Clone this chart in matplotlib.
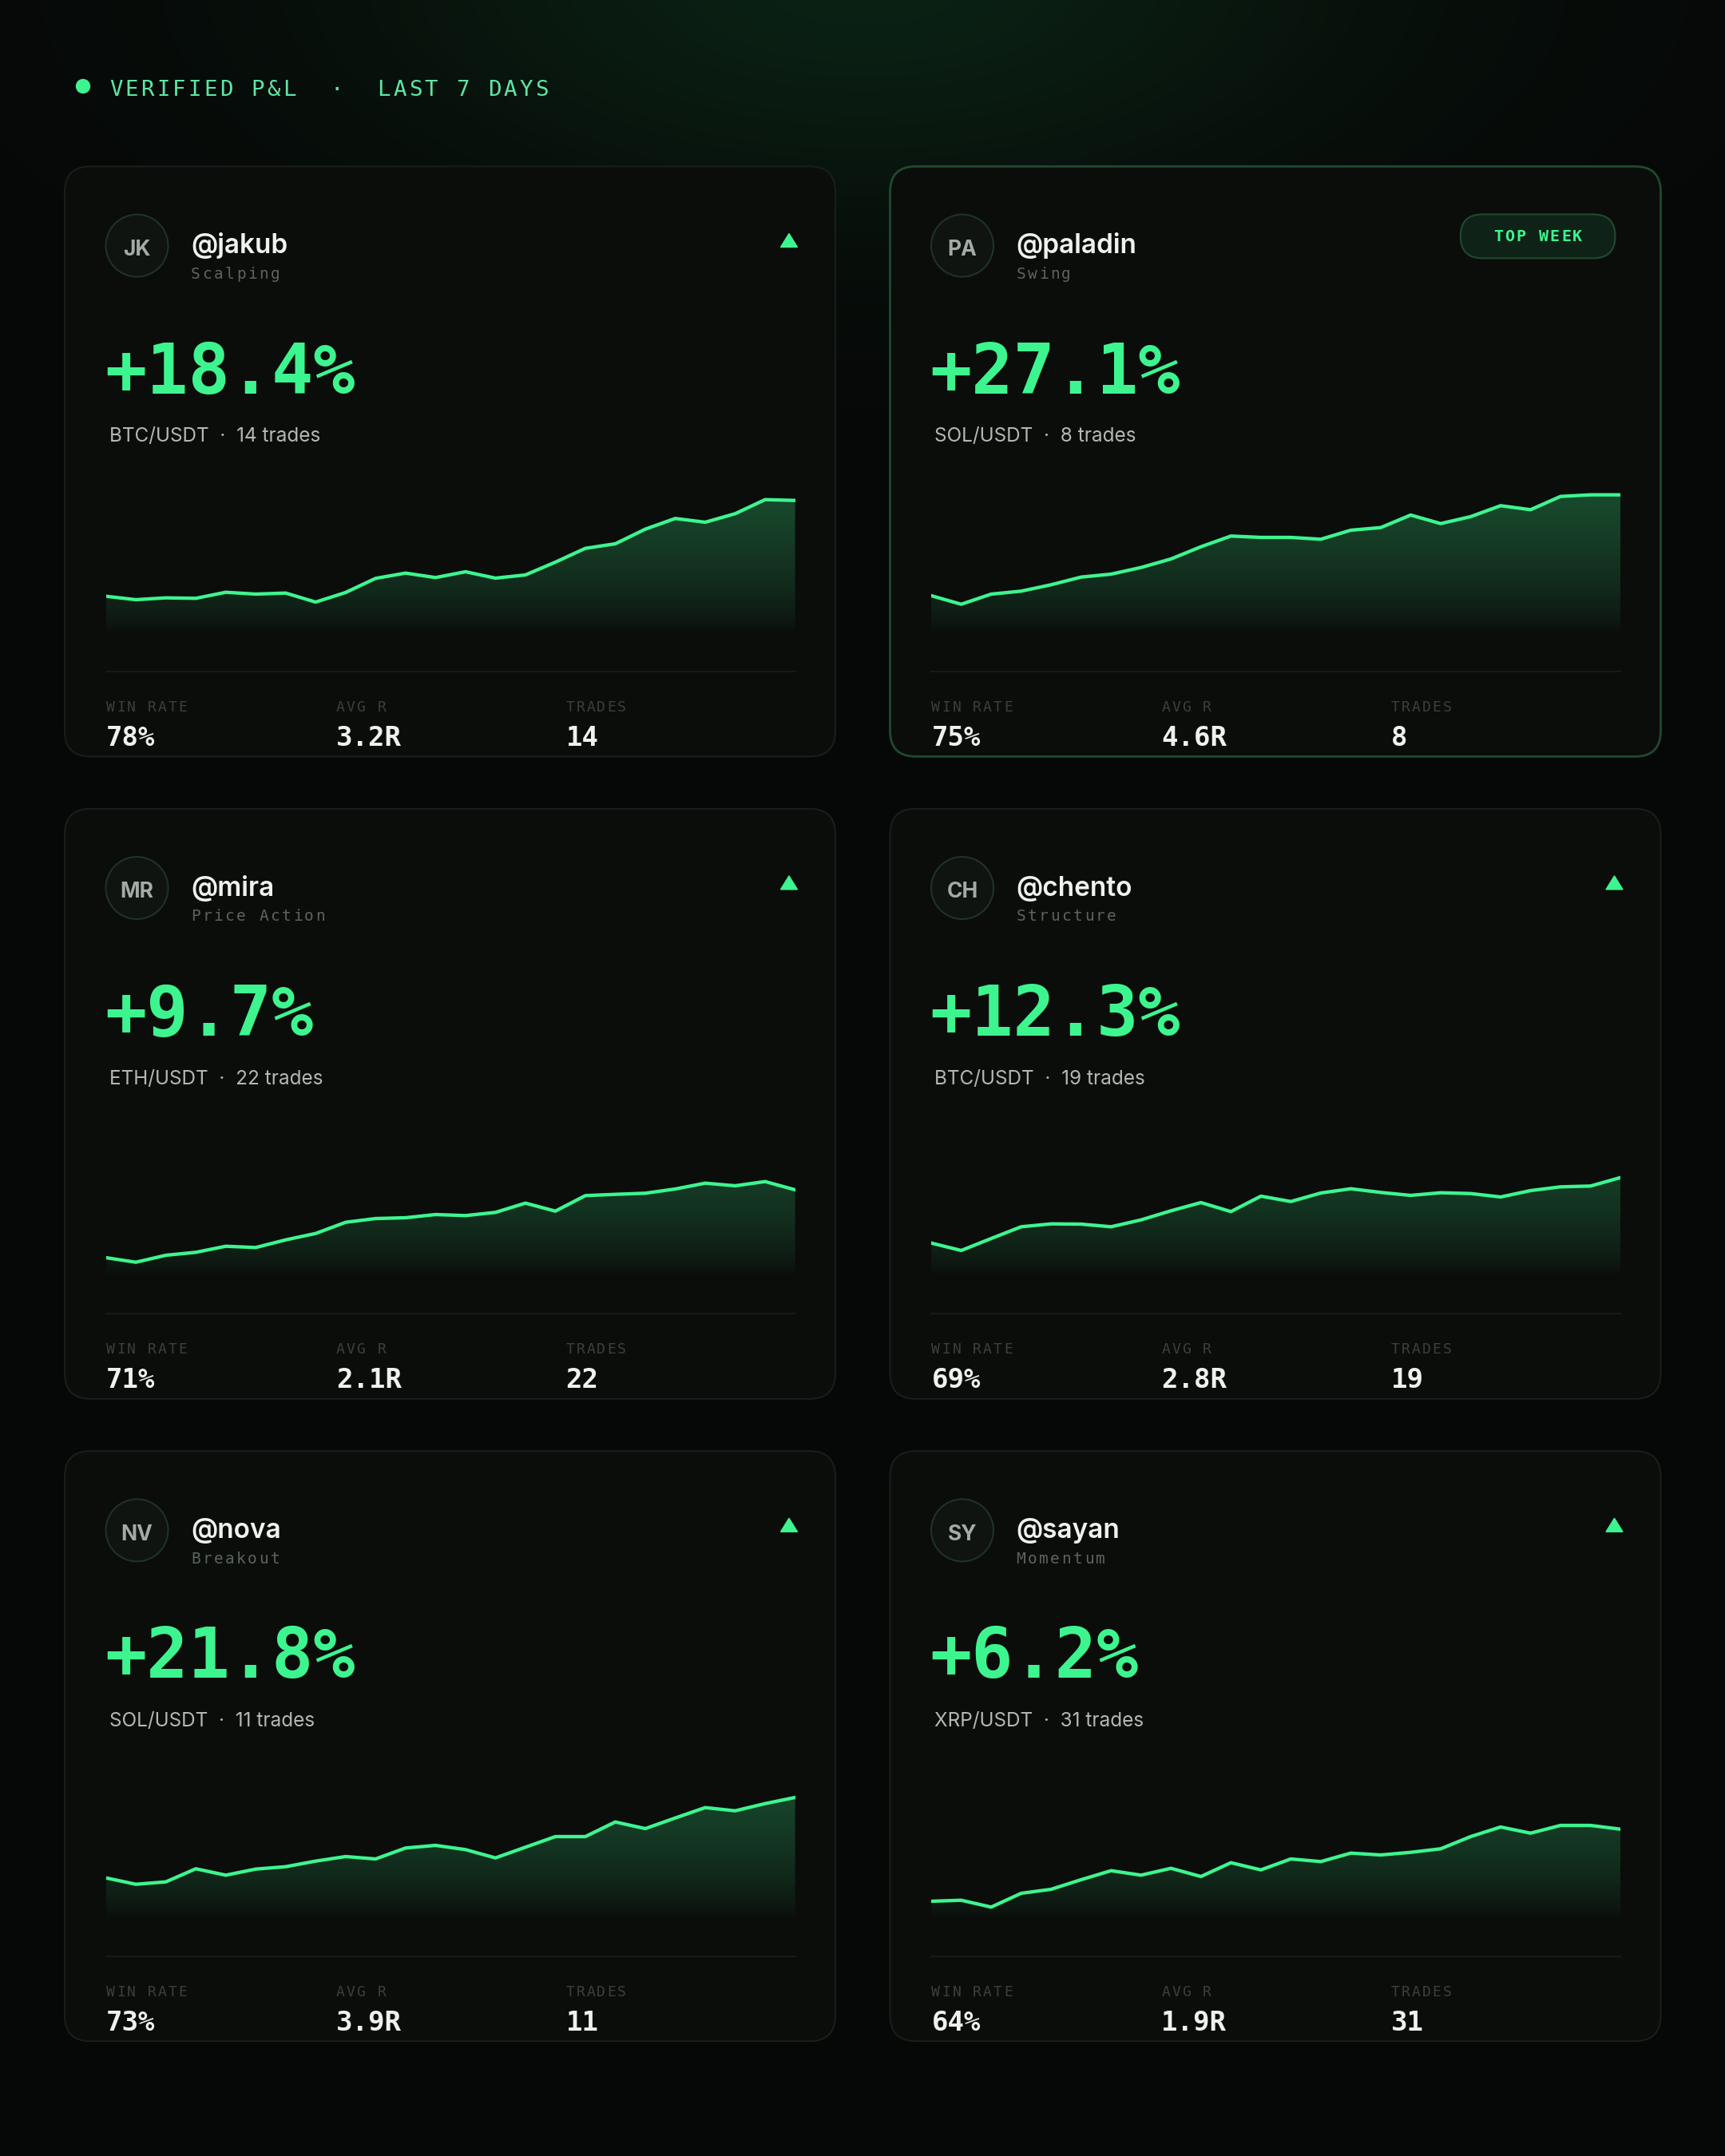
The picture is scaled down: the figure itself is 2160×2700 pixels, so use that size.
import numpy as np
import matplotlib.pyplot as plt
from matplotlib.patches import FancyBboxPatch, Circle, Polygon

# ---- data ----
handles = ['@jakub', '@paladin', '@mira', '@chento', '@nova', '@sayan']
initials = ['JK', 'PA', 'MR', 'CH', 'NV', 'SY']
styles = ['Scalping', 'Swing', 'Price Action', 'Structure', 'Breakout', 'Momentum']
returns = [18.4, 27.1, 9.7, 12.3, 21.8, 6.2]
pairs = ['BTC/USDT', 'SOL/USDT', 'ETH/USDT', 'BTC/USDT', 'SOL/USDT', 'XRP/USDT']
trades = [14, 8, 22, 19, 11, 31]
win_rates = [78, 75, 71, 69, 73, 64]
avg_r = [3.2, 4.6, 2.1, 2.8, 3.9, 1.9]
top_week = '@paladin'
stat_labels = ['WIN RATE', 'AVG R', 'TRADES']

# equity sparklines, 24 points each (chart height units)
jakub = [46.3, 42.0, 44.3, 43.7, 51.3, 49.0, 50.3, 39.0, 51.0, 68.7, 75.3, 69.7,
         77.0, 69.0, 73.0, 89.0, 106.3, 112.0, 130.3, 143.7, 139.0, 149.7, 167.3, 166.3]
paladin = [47.0, 36.3, 49.0, 52.7, 60.7, 70.3, 74.0, 82.3, 93.0, 108.3, 121.7, 120.0,
           120.0, 117.7, 129.0, 132.3, 148.0, 137.3, 146.0, 159.7, 154.7, 171.3, 173.3, 173.3]
mira = [22.4, 16.7, 25.4, 29.1, 36.7, 35.1, 44.7, 52.7, 66.7, 71.4, 72.4, 76.4,
        75.1, 79.1, 90.7, 80.7, 100.1, 101.7, 103.1, 108.4, 115.7, 112.4, 117.7, 107.4]
chento = [40.7, 31.4, 46.4, 61.1, 64.7, 64.4, 61.1, 69.7, 81.1, 91.4, 80.1, 99.4,
          92.7, 103.4, 108.7, 104.1, 100.4, 103.7, 102.7, 98.4, 106.4, 111.1, 112.1, 122.7]
nova = [50.1, 42.1, 45.1, 61.5, 53.5, 61.1, 64.1, 71.1, 76.8, 73.8, 87.5, 90.8,
        85.5, 75.1, 88.5, 101.8, 101.8, 120.1, 111.8, 125.1, 138.1, 134.1, 143.1, 150.8]
sayan = [20.8, 22.1, 13.5, 30.8, 35.8, 47.8, 59.1, 53.5, 62.1, 51.8, 69.1, 60.1,
         73.8, 70.5, 81.1, 78.8, 82.1, 86.5, 101.8, 113.8, 106.1, 115.8, 115.8, 111.1]
curves = [jakub, paladin, mira, chento, nova, sayan]

GREEN = '#3df58f'
MONO = 'DejaVu Sans Mono'
SANS = 'Inter'

W, H = 2160, 2700
fig = plt.figure(figsize=(21.6, 27), dpi=100)
fig.patch.set_facecolor('#060807')
bg = fig.add_axes([0, 0, 1, 1])
bg.axis('off')

# top glow
yy, xx = np.mgrid[0:H:4, 0:W:4]
w = np.exp(-(((xx - 1080) / 650.0) ** 2 + ((yy + 30) / 300.0) ** 2))
base = np.array([6, 8, 7]) / 255.0
glow = np.array([11, 33, 20]) / 255.0
bg.imshow(base + w[..., None] * (glow - base), extent=[0, W, H, 0],
          aspect='auto', interpolation='bilinear', zorder=0)
bg.set_xlim(0, W)
bg.set_ylim(H, 0)


def spaced(x, y, s, pitch, **kw):
    for i, ch in enumerate(s):
        if ch != ' ':
            bg.text(x + i * pitch, y, ch, ha='left', va='baseline', **kw)


# header
bg.add_patch(Circle((104, 108), 8.5, color=GREEN, zorder=3))
spaced(136.8, 120, 'VERIFIED P&L  \u00b7  LAST 7 DAYS', 19.75, fontsize=19.7,
       family=MONO, color='#5ee6a5', zorder=3)

col_x = [81, 1114.5]
row_y = [208.4, 1012.8, 1817.2]
card_w, card_h = 965, 739
chart_x0, chart_w = 51.6, 863
chart_bot, chart_top = 584.6, 400.0

for i in range(6):
    L = col_x[i % 2]
    T = row_y[i // 2]
    is_top = handles[i] == top_week

    bg.add_patch(FancyBboxPatch((L, T), card_w, card_h,
                                boxstyle='round,pad=0,rounding_size=32',
                                fc='#0b0d0b', ec='#1f4a2f' if is_top else '#1a1f1c',
                                lw=2.0 if is_top else 1.4, zorder=1))

    # avatar
    bg.add_patch(Circle((L + 90.5, T + 99.2), 39, fc='#0f1411', ec='#1e3326',
                        lw=1.5, zorder=2))
    bg.text(L + 90.5, T + 111.5, initials[i], ha='center', va='baseline',
            fontsize=19, family=SANS, weight='bold', color='#a3aba5', zorder=3)

    bg.text(L + 158, T + 109, handles[i], ha='left', va='baseline', fontsize=24,
            family=SANS, weight='semibold', color='#f0f2f0', zorder=3)
    spaced(L + 158, T + 140.6, styles[i], 14.2, fontsize=14, family=MONO,
           color='#5a645d', zorder=3)

    if is_top:
        bg.add_patch(FancyBboxPatch((L + 714.3, T + 60), 193.7, 55,
                                    boxstyle='round,pad=0,rounding_size=27.5',
                                    fc='#0f2217', ec='#1f4a2f', lw=1.5, zorder=2))
        spaced(L + 811.2 - 7 * 14.1 / 2 - 6, T + 94, 'TOP WEEK', 14.1,
               fontsize=14.4, family=MONO, weight='bold', color=GREEN, zorder=3)
    else:
        cx, cy = L + 907, T + 92.6
        bg.add_patch(Polygon([(cx - 10.5, cy + 8.5), (cx + 10.5, cy + 8.5),
                              (cx, cy - 8.5)], closed=True, color=GREEN, zorder=3))

    bg.text(L + 50, T + 284.3, f'+{returns[i]:.1f}%', ha='left', va='baseline',
            fontsize=62.6, family=MONO, weight='bold', color=GREEN, zorder=3)
    bg.text(L + 56, T + 345, f'{pairs[i]}  \u00b7  {trades[i]} trades', ha='left',
            va='baseline', fontsize=17.5, family=SANS, color='#b3b8b4', zorder=3)

    # sparkline
    ax = fig.add_axes([(L + chart_x0) / W, 1 - (T + chart_bot) / H,
                       chart_w / W, (chart_bot - chart_top) / H])
    ax.axis('off')
    ax.patch.set_alpha(0)
    x = np.arange(len(curves[i]))
    v = np.array(curves[i])
    top = chart_bot - chart_top
    ax.set_xlim(0, x[-1])
    ax.set_ylim(0, top)
    grad = np.linspace(0, 1, 256) ** 0.7
    rgba = np.zeros((256, 1, 4))
    rgba[..., 0], rgba[..., 1], rgba[..., 2] = 0.24, 0.96, 0.56
    rgba[..., 3] = 0.28 * grad[:, None]
    im = ax.imshow(rgba, extent=[0, x[-1], 0, top], origin='lower', aspect='auto',
                   zorder=1)
    poly = Polygon([(0, 0)] + list(zip(x, v)) + [(x[-1], 0)], closed=True,
                   fc='none', ec='none')
    ax.add_patch(poly)
    im.set_clip_path(poly)
    ax.plot(x, v, color=GREEN, lw=3.1, solid_joinstyle='round', zorder=2)

    # divider + stats
    bg.plot([L + chart_x0, L + chart_x0 + chart_w], [T + 632.6, T + 632.6],
            color='#151c18', lw=1.5, zorder=2)
    vals = [f'{win_rates[i]}%', f'{avg_r[i]:.1f}R', f'{trades[i]}']
    for k in range(3):
        sx = L + 52 + k * 287.7
        spaced(sx, T + 682.3, stat_labels[k], 12.9, fontsize=13, family=MONO,
               color='#39413c', zorder=3)
        bg.text(sx, T + 725.6, vals[k], ha='left', va='baseline', fontsize=24.5,
                family=MONO, weight='bold', color='#eef2ee', zorder=3)

fig.savefig('out.png', dpi=100, facecolor=fig.get_facecolor())
